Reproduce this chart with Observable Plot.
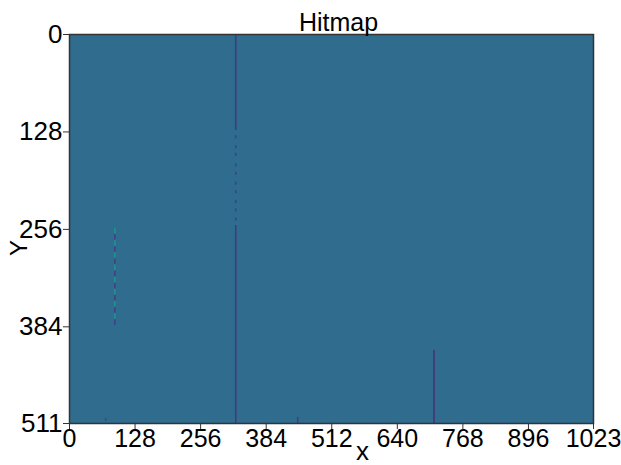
<!DOCTYPE html>
<html>
<head>
<meta charset="utf-8">
<script src="https://cdn.jsdelivr.net/npm/d3@7"></script>
<script src="https://cdn.jsdelivr.net/npm/@observablehq/plot@0.6"></script>
<style>
  html, body { margin: 0; padding: 0; background: #fff; }
  svg { display: block; }
</style>
</head>
<body>
<div id="chart"></div>
<script>
// ---- data ----
const title = "Hitmap";
const xTicks = [0, 128, 256, 384, 512, 640, 768, 896, 1023];
const yTicks = [0, 128, 256, 384, 511];
const sensorCols = 1024;
const sensorRows = 512;
const backgroundValue = 35;

// solid / partial columns: x column, first row, last row, value
const segCol   = [324, 324, 711, 70, 445];
const segRow1  = [0,   251, 415, 504, 503];
const segRow2  = [126, 511, 511, 508, 511];
const segValue = [16,  16,  14,  20,  18];

// dotted part of column 324
const dotRows = [133, 146, 156, 170, 181, 194, 205, 218, 229, 241];
const dotValue = 18;

// dashed column 88 (alternating light/dark)
const dashRows = [255, 263, 271, 279, 287, 295, 303, 311, 319, 327, 335, 343, 351, 359, 367, 375];
const dashVals = [52, 18, 52, 18, 52, 18, 52, 18, 52, 18, 52, 18, 52, 18, 52, 18];
const dashCol = 88;

// ---- build tables ----
const cells = [];
cells.push({x1: 0, x2: sensorCols - 1, y1: 0, y2: sensorRows - 1, v: backgroundValue});
segCol.forEach((c, i) => cells.push({x1: c, x2: c + 3, y1: segRow1[i], y2: segRow2[i], v: segValue[i]}));
dotRows.forEach(r => cells.push({x1: 324, x2: 327, y1: r, y2: r + 4, v: dotValue}));
dashRows.forEach((r, i) => cells.push({x1: dashCol, x2: dashCol + 3, y1: r, y2: r + 7, v: dashVals[i]}));

const font = "'Liberation Sans', Arial, Helvetica, sans-serif";

const chart = Plot.plot({
  width: 621,
  height: 465,
  marginLeft: 69,
  marginRight: 28,
  marginTop: 34,
  marginBottom: 42,
  style: {fontFamily: font, fontSize: "26px", color: "#000", background: "#fff"},
  x: {domain: [0, 1023], label: null},
  y: {domain: [0, 511], reverse: true, label: null},
  color: {type: "linear", scheme: "viridis", domain: [0, 100]},
  marks: [
    Plot.rect(cells, {x1: "x1", x2: "x2", y1: "y1", y2: "y2", fill: "v", inset: 0}),
    Plot.frame({stroke: "#333", strokeWidth: 1.5}),
    Plot.axisX({ticks: xTicks, tickFormat: d => String(d), tickSize: 6, tickPadding: 0, fontSize: 25, stroke: "#333", label: null}),
    Plot.axisY({ticks: yTicks, tickFormat: d => String(d), tickSize: 6, tickPadding: 1, fontSize: 26, stroke: "#333", label: null}),
    Plot.text([title], {frameAnchor: "top", dx: 7, dy: -4, lineAnchor: "bottom", fontSize: 25, fill: "#000"}),
    Plot.text(["x"], {frameAnchor: "bottom", dx: 31, dy: 36, fontSize: 26, fill: "#000"}),
    Plot.text(["Y"], {frameAnchor: "left", dx: -50, dy: 27, rotate: -90, fontSize: 24, fill: "#000"})
  ]
});
document.getElementById("chart").appendChild(chart);
</script>
</body>
</html>
